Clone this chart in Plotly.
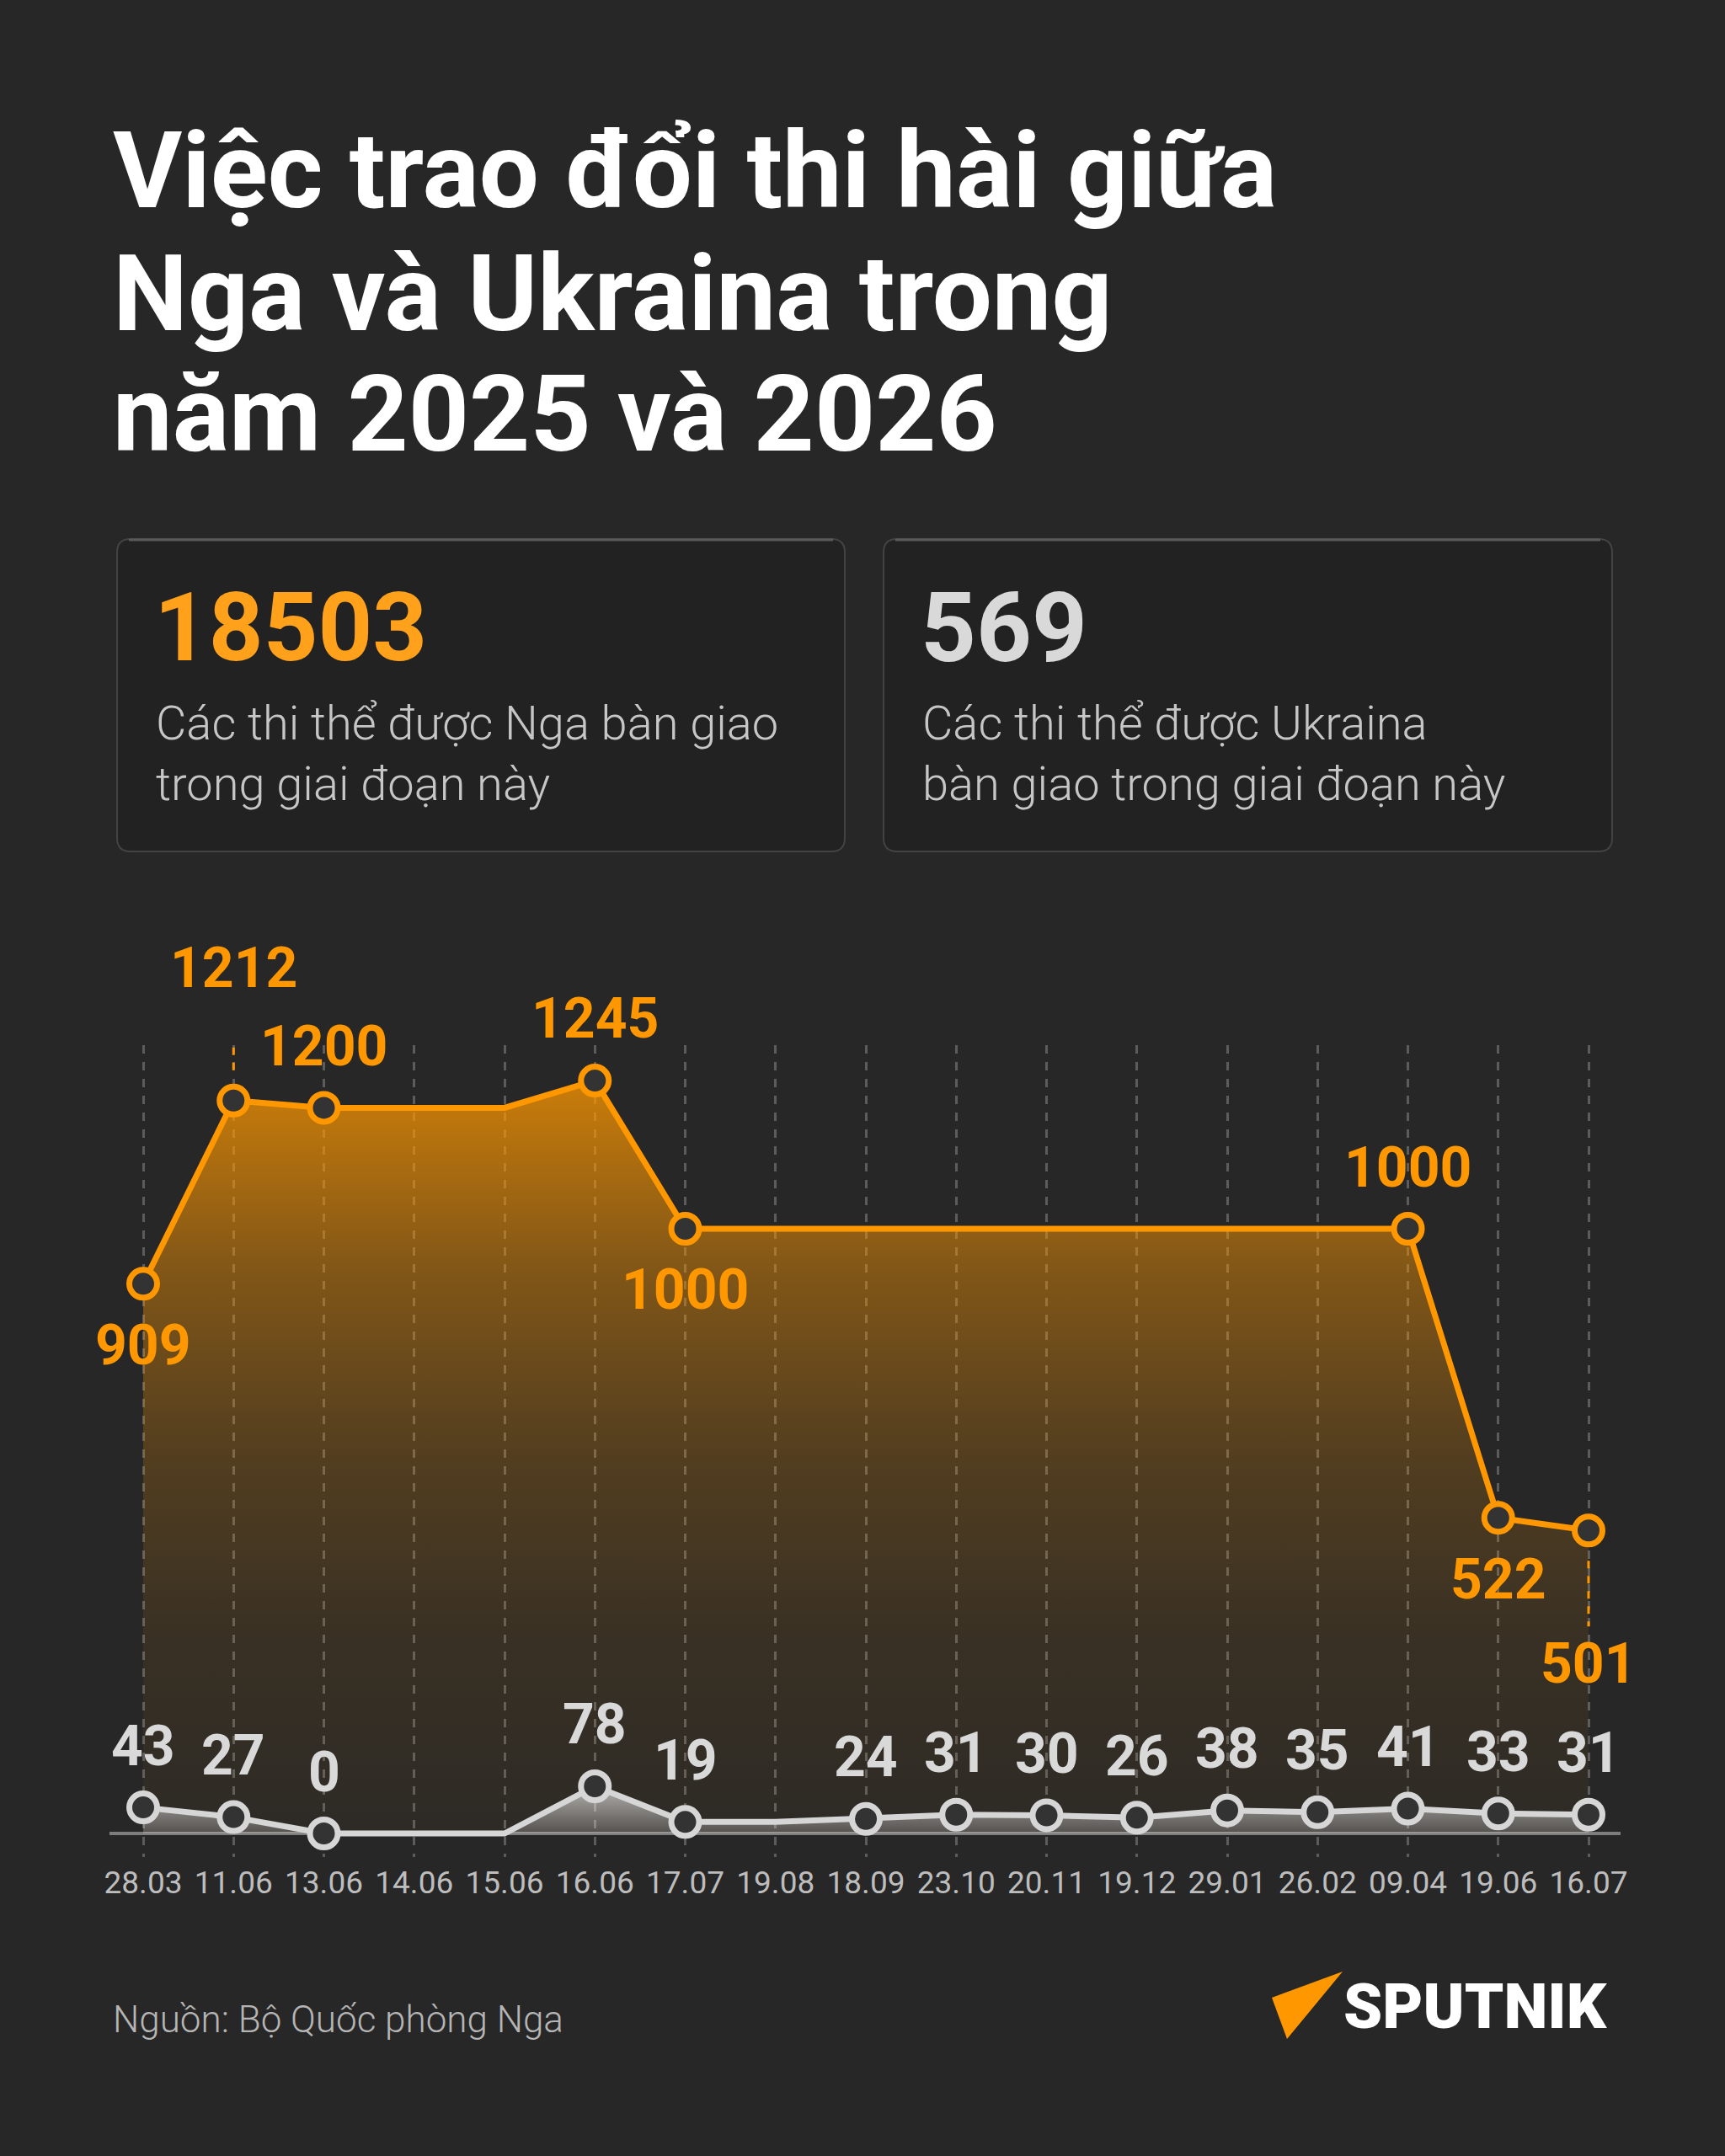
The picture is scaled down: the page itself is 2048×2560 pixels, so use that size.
import plotly.graph_objects as go

# ---------------- data ----------------
dates = ["28.03", "11.06", "13.06", "14.06", "15.06", "16.06", "17.07", "19.08",
         "18.09", "23.10", "20.11", "19.12", "29.01", "26.02", "09.04", "19.06", "16.07"]
russia = [909, 1212, 1200, 1200, 1200, 1245, 1000, 1000, 1000, 1000, 1000, 1000,
          1000, 1000, 1000, 522, 501]
russia_marked = [1, 1, 1, 0, 0, 1, 1, 0, 0, 0, 0, 0, 0, 0, 1, 1, 1]
ukraine = [43, 27, 0, 0, 0, 78, 19, 19, 24, 31, 30, 26, 38, 35, 41, 33, 31]
ukraine_marked = [1, 1, 1, 0, 0, 1, 1, 0, 1, 1, 1, 1, 1, 1, 1, 1, 1]
total_russia = 18503
total_ukraine = 569

title_lines = ["Việc trao đổi thi hài giữa", "Nga và Ukraina trong", "năm 2025 và 2026"]
card1_text = ["Các thi thể được Nga bàn giao", "trong giai đoạn này"]
card2_text = ["Các thi thể được Ukraina", "bàn giao trong giai đoạn này"]
source_text = "Nguồn: Bộ Quốc phòng Nga"

# ---------------- style ----------------
W, H = 2048, 2560
BG = "#272727"
ORANGE = "#FF9800"
GREY_LINE = "#d6d6d6"
FONT = "Roboto"

def px(x):
    return x / W

def py(y):
    return 1 - y / H

# plot geometry (pixels)
Y_TOP_PX, Y_BOT_PX = 1241, 2205
Y_RANGE = [-39, 1303.6]
K = (Y_BOT_PX - Y_TOP_PX) / (Y_RANGE[1] - Y_RANGE[0])  # px per unit

# label vertical offsets (px, + up) for the Russian series
russia_shift = {0: -73, 1: 157, 2: 73, 5: 74, 6: -73, 14: 72, 15: -73, 16: -158}
ukraine_shift = 73

x_idx = list(range(len(dates)))

fig = go.Figure()

# Russia area + line
fig.add_trace(go.Scatter(
    x=x_idx, y=russia, mode="lines",
    line=dict(color=ORANGE, width=7),
    fill="tozeroy",
    fillgradient=dict(type="vertical", colorscale=[
        [0.0, "rgba(255,152,0,0.03)"],
        [0.25, "rgba(255,152,0,0.08)"],
        [0.5, "rgba(255,152,0,0.20)"],
        [0.75, "rgba(255,152,0,0.42)"],
        [1.0, "rgba(255,152,0,0.76)"],
    ]),
    hoverinfo="skip", showlegend=False,
))

# Ukraine area + line
fig.add_trace(go.Scatter(
    x=x_idx, y=ukraine, mode="lines",
    line=dict(color=GREY_LINE, width=7),
    fill="tozeroy",
    fillgradient=dict(type="vertical", colorscale=[
        [0.0, "rgba(255,255,255,0.18)"],
        [1.0, "rgba(255,255,255,0.64)"],
    ]),
    hoverinfo="skip", showlegend=False,
))

# markers
rx = [i for i in x_idx if russia_marked[i]]
fig.add_trace(go.Scatter(
    x=rx, y=[russia[i] for i in rx], mode="markers",
    marker=dict(size=33, color="#333333", line=dict(color=ORANGE, width=7)),
    hoverinfo="skip", showlegend=False, cliponaxis=False,
))
ux = [i for i in x_idx if ukraine_marked[i]]
fig.add_trace(go.Scatter(
    x=ux, y=[ukraine[i] for i in ux], mode="markers",
    marker=dict(size=33, color="#333333", line=dict(color=GREY_LINE, width=7)),
    hoverinfo="skip", showlegend=False, cliponaxis=False,
))

annotations = []
shapes = []

# value labels
for i in rx:
    annotations.append(dict(
        x=i, y=russia[i], xref="x", yref="y", text=str(russia[i]),
        showarrow=False, xanchor="center", yanchor="middle",
        yshift=russia_shift.get(i, 73),
        font=dict(family=FONT, size=66, color=ORANGE, weight=700),
    ))
for i in ux:
    annotations.append(dict(
        x=i, y=ukraine[i], xref="x", yref="y", text=str(ukraine[i]),
        showarrow=False, xanchor="center", yanchor="middle",
        yshift=ukraine_shift,
        font=dict(family=FONT, size=66, color="#d9d9d9", weight=700),
    ))

# dashed connectors for far labels
for i, s in russia_shift.items():
    if abs(s) > 100:
        sign = 1 if s > 0 else -1
        shapes.append(dict(
            type="line", xref="x", yref="y", x0=i, x1=i,
            y0=russia[i] + sign * 36 / K, y1=russia[i] + sign * 114 / K,
            line=dict(color=ORANGE, width=3, dash="9px,9px"), layer="above",
        ))

# title
title_centers = [203, 349, 492]
for t, yc in zip(title_lines, title_centers):
    annotations.append(dict(
        x=px(132), y=py(yc), xref="paper", yref="paper", text=t,
        showarrow=False, xanchor="left", yanchor="middle",
        font=dict(family=FONT, size=126, color="#ffffff", weight=700),
    ))

# cards
def rrect(x0, y0, x1, y1, r):
    pts = [
        ("M", [(x0 + r, y0)]),
        ("L", [(x1 - r, y0)]),
        ("Q", [(x1, y0), (x1, y0 + r)]),
        ("L", [(x1, y1 - r)]),
        ("Q", [(x1, y1), (x1 - r, y1)]),
        ("L", [(x0 + r, y1)]),
        ("Q", [(x0, y1), (x0, y1 - r)]),
        ("L", [(x0, y0 + r)]),
        ("Q", [(x0, y0), (x0 + r, y0)]),
    ]
    s = ""
    for cmd, ps in pts:
        s += cmd + " " + " ".join(f"{px(a):.5f},{py(b):.5f}" for a, b in ps) + " "
    return s + "Z"

for cx0, cx1 in [(139, 1003), (1049, 1914)]:
    shapes.append(dict(
        type="path", xref="paper", yref="paper", path=rrect(cx0, 640, cx1, 1011, 16),
        fillcolor="#222222", line=dict(color="#434343", width=2), layer="below",
    ))
    shapes.append(dict(
        type="line", xref="paper", yref="paper",
        x0=px(cx0 + 14), x1=px(cx1 - 14), y0=py(641), y1=py(641),
        line=dict(color="#5a5a5a", width=3), layer="below",
    ))

annotations.append(dict(
    x=px(181), y=py(745), xref="paper", yref="paper", text=str(total_russia),
    showarrow=False, xanchor="left", yanchor="middle",
    font=dict(family=FONT, size=113, color="#FFA11A", weight=700),
))
annotations.append(dict(
    x=px(1091), y=py(745), xref="paper", yref="paper", text=str(total_ukraine),
    showarrow=False, xanchor="left", yanchor="middle",
    font=dict(family=FONT, size=115, color="#d9d9d9", weight=700),
))
for lines, x0 in [(card1_text, 183), (card2_text, 1093)]:
    for t, yc in zip(lines, [859, 931]):
        annotations.append(dict(
            x=px(x0), y=py(yc), xref="paper", yref="paper", text=t,
            showarrow=False, xanchor="left", yanchor="middle",
            font=dict(family=FONT, size=56, color="#c6c6c6", weight=300),
        ))

# footer
annotations.append(dict(
    x=px(132), y=py(2398), xref="paper", yref="paper", text=source_text,
    showarrow=False, xanchor="left", yanchor="middle",
    font=dict(family=FONT, size=44, color="#b5b5b5", weight=300),
))
annotations.append(dict(
    x=px(1593), y=py(2382), xref="paper", yref="paper", text="SPUTNIK",
    showarrow=False, xanchor="left", yanchor="middle",
    font=dict(family=FONT, size=74, color="#ffffff", weight=900),
))
shapes.append(dict(
    type="path", xref="paper", yref="paper",
    path=f"M {px(1510)},{py(2372)} L {px(1594)},{py(2341)} L {px(1528)},{py(2421)} Z",
    fillcolor=ORANGE, line=dict(width=0), layer="above",
))

fig.update_layout(
    width=W, height=H,
    margin=dict(l=0, r=0, t=0, b=0, pad=0, autoexpand=False),
    paper_bgcolor=BG, plot_bgcolor="rgba(0,0,0,0)",
    showlegend=False,
    xaxis=dict(
        domain=[130 / W, 1924 / W],
        range=[(130 - 170) / 107.25, (1924 - 170) / 107.25],
        tickmode="array", tickvals=x_idx, ticktext=dates,
        showgrid=True, griddash="10px,10px", gridcolor="#5c5c5c", gridwidth=2.5,
        zeroline=False, showline=False, ticks="",
        ticklabelstandoff=5, automargin=False,
        tickfont=dict(family=FONT, size=37, color="#bdbdbd"),
        fixedrange=True,
    ),
    yaxis=dict(
        domain=[py(Y_BOT_PX), py(Y_TOP_PX)],
        range=Y_RANGE, automargin=False,
        showgrid=False, showticklabels=False, ticks="",
        zeroline=True, zerolinecolor="#7d7d7d", zerolinewidth=4,
        fixedrange=True,
    ),
    annotations=annotations,
    shapes=shapes,
)

fig.write_html(
    "out.html",
    post_script="document.body.style.margin='0';document.body.style.background='#272727';",
)
